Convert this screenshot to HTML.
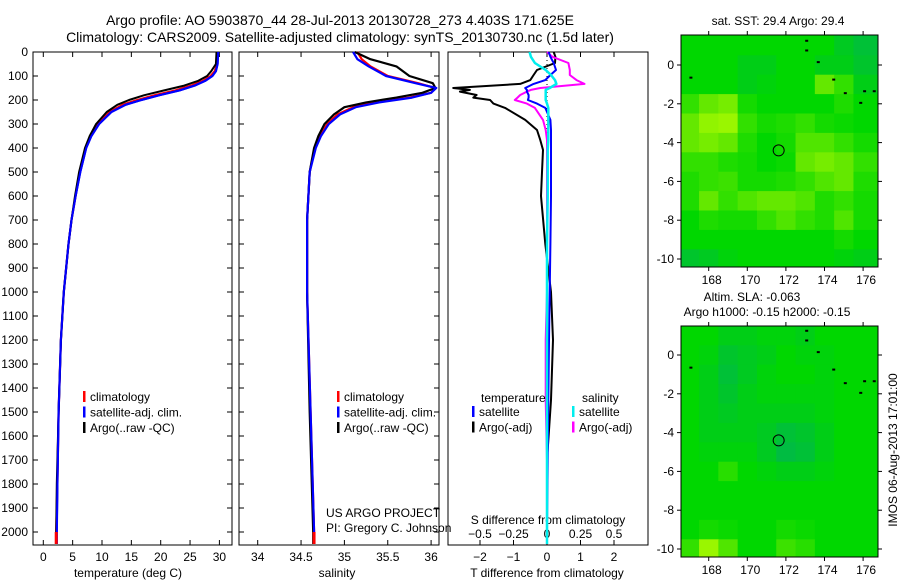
<!DOCTYPE html>
<html><head><meta charset="utf-8">
<style>
html,body{margin:0;padding:0;background:#fff;}
svg{display:block;font-family:"Liberation Sans",sans-serif;}
text{font-size:12px;fill:#000;}
</style></head>
<body>
<svg id="fig" width="900" height="580" viewBox="0 0 900 580">
<text x="340" y="25" text-anchor="middle" style="font-size:14px">Argo profile: AO 5903870_44 28-Jul-2013 20130728_273 4.403S 171.625E</text>
<text x="340" y="42" text-anchor="middle" style="font-size:14px">Climatology: CARS2009. Satellite-adjusted climatology: synTS_20130730.nc (1.5d later)</text>
<text transform="translate(897,450) rotate(-90)" text-anchor="middle">IMOS 06-Aug-2013 17:01:00</text>
</svg>
<script>
// ---------- data ----------
const tDepth = [0,50,80,100,120,140,160,180,200,220,250,300,350,400,500,600,700,800,1000,1200,1500,1800,2000,2050];
const tClim  = [29.7,29.6,29.2,28.5,27.2,25.2,22.5,19.0,16.0,13.5,11.3,9.3,8.1,7.2,6.2,5.5,4.8,4.3,3.5,3.0,2.6,2.4,2.2,2.2];
const tSat   = [29.8,29.7,29.4,28.8,27.6,25.8,23.2,19.8,16.7,14.0,11.6,9.5,8.2,7.3,6.3,5.5,4.8,4.3,3.5,3.0,2.6,2.4,2.3,2.3];
const tArgo  = [29.5,29.4,28.6,27.9,26.4,24.0,20.6,17.2,14.6,12.6,10.8,9.0,7.9,7.1,6.1,5.4,4.8,4.3,3.5,3.0,2.6,2.3,2.2,2.2];

const sDepth = [0,30,60,100,130,150,170,190,210,230,260,300,350,400,500,700,1000,1500,2000,2050];
const sClim  = [35.15,35.2,35.3,35.5,35.85,36.05,36.0,35.75,35.35,35.1,34.92,34.8,34.72,34.66,34.6,34.57,34.57,34.61,34.65,34.65];
const sSat   = [35.1,35.15,35.28,35.48,35.82,36.06,36.0,35.78,35.4,35.13,34.95,34.82,34.73,34.67,34.6,34.57,34.57,34.61,34.65,34.65];
const sArgo  = [35.12,35.3,35.6,35.75,36.02,36.05,35.9,35.6,35.25,35.0,34.88,34.77,34.7,34.65,34.6,34.57,34.57,34.6,34.64,34.64];

const dDepth   = [0,20,46,75,96,117,133,150,158,165,179,190,200,215,233,283,325,367,408,500,600,800,1000,1200,1450,1700,2000,2050];
const dTArgo   = [0.2,0.25,0.24,-0.3,-0.4,-0.5,-0.8,-2.8,-2.3,-2.6,-2.1,-2.2,-1.7,-1.6,-1.25,-0.65,-0.3,-0.2,-0.12,-0.15,-0.18,-0.05,0.12,0.18,0.12,0.0,0.0,0.0];
const dTSat    = [0.05,0.1,0.2,0.27,0.1,-0.05,-0.4,-0.65,-0.6,-0.6,-0.55,-0.55,-0.57,-0.3,-0.05,0.1,0.12,0.12,0.12,0.12,0.12,0.1,0.08,0.06,0.04,0.02,0.0,0.0];
const dSArgo   = [0.0,0.04,0.16,0.17,0.17,0.22,0.28,-0.05,-0.12,-0.15,-0.2,-0.22,-0.24,-0.15,-0.09,-0.03,-0.01,0.0,0.0,0.0,0.0,0.0,0.0,-0.01,-0.01,0.0,0.0,0.0];
const dSSat    = [-0.13,-0.12,-0.09,-0.01,0.03,0.06,0.07,0.02,-0.01,-0.01,-0.01,-0.01,-0.01,0.0,0.01,0.01,0.01,0.01,0.005,0.005,0.005,0.0,0.0,0.0,0.0,0.0,0.0,0.0];

const depthTicks = [0,100,200,300,400,500,600,700,800,900,1000,1100,1200,1300,1400,1500,1600,1700,1800,1900,2000];
const tempTicks = [0,5,10,15,20,25,30];
const salTicks = [34,34.5,35,35.5,36];
const salTickLabels = ["34","34.5","35","35.5","36"];
const tDiffTicks = [-2,-1,0,1,2];
const sDiffTicks = [-0.5,-0.25,0,0.25,0.5];
const sDiffLabels = ["-0.5","-0.25","0","0.25","0.5"];

const lonTicks = [168,170,172,174,176];
const latTicks = [0,-2,-4,-6,-8,-10];
const gridLats = [1,0,-1,-2,-3,-4,-5,-6,-7,-8,-9,-10];
const gridLons = [167,168,169,170,171,172,173,174,175,176];
const sstGrid = [
[1,1,1,1,1,1,1,1,0.7,0.5],
[1,1,1,0.8,0.8,1,1,0.8,0.8,0.6],
[1,1,1,0.8,0.9,1,1,2,1.5,0.8],
[1.5,2,2.2,1.2,1,1,1,1,1.3,1],
[2,2.5,2.6,1.5,1.2,1.3,1.5,1.2,1.1,1],
[2,2.2,2,1.3,1,1.2,1.8,1.8,1.5,1.2],
[1.5,1.5,1.3,1.2,1,1.1,2,2.2,2,1.5],
[1.3,1.5,1.6,1.2,1.2,1.3,1.5,1.8,2,1.3],
[1.3,2,1.5,1.8,2,2,1.8,1.3,1.5,1.2],
[1,1.3,1.2,1.2,1.5,1.8,1.5,1.3,1.8,1.2],
[1,1,1,1,1,1,1,1,1.2,1],
[0.6,0.7,0.9,1,1,1,1,1,0.9,0.8]];
const slaGrid = [
[1,1,0.8,0.8,0.9,0.9,0.8,1,1,1],
[1,0.9,0.6,0.7,0.8,1,0.9,0.9,1,1],
[1,0.8,0.5,0.7,0.9,1,1,0.9,1,1],
[1,0.8,0.6,0.8,0.9,0.9,0.9,0.9,1,1],
[1,0.8,0.7,0.8,0.8,0.8,0.8,0.9,1,1],
[1,0.8,0.8,0.8,0.7,0.5,0.6,0.8,1,1],
[1,0.9,0.9,0.9,0.7,0.4,0.5,0.8,1,1],
[1,1,1.4,1,0.9,0.8,0.8,0.9,1,1],
[1,1,1,1,1,1,1,1,1,1],
[1,1,1,1,1,1,1,1,1,1],
[1,1.2,1.1,1,1,1.2,1.1,1,1,1],
[1.5,2.6,1.8,1,1,1.6,1.4,1,1,1]];
const floatLon = 171.625, floatLat = -4.403;

// ---------- helpers ----------
const NS = "http://www.w3.org/2000/svg";
const svg = document.getElementById("fig");
function mk(tag, attrs, parent){const e=document.createElementNS(NS,tag);for(const k in attrs)e.setAttribute(k,attrs[k]);(parent||svg).appendChild(e);return e;}
function txt(x,y,s,anchor,parent){const t=mk("text",{x:x,y:y,"text-anchor":anchor||"middle"},parent);t.textContent=s;return t;}

const PT=52, PB=545;
const yD = d => 52 + d*0.24;

function panel(name,x0,x1){
  const g=mk("g",{});
  
  
  const r=mk("rect",{x:x0,y:PT,width:x1-x0,height:PB-PT,fill:"none",stroke:"#000","stroke-width":1},g);
  
  
  return g;
}
function line(xs,depths,fx,color,name,g,w){
  const pts=xs.map((v,i)=>fx(v).toFixed(1)+","+yD(depths[i]).toFixed(1)).join(" ");
  const p=mk("polyline",{points:pts,fill:"none",stroke:color,"stroke-width":w||2.2,"stroke-linejoin":"round"},g);
  
  
}
function legend(g,x,y,items){
  items.forEach((it,i)=>{
    mk("rect",{x:x,y:y+i*15.5-6,width:2.5,height:11,fill:it[0]},g);
    const t=txt(x+7,y+i*15.5+4,it[1],"start",g);
    
    
  });
}

// ---------- panel 1 temperature ----------
const xT = v => 43.3 + v*5.87;
const g1=panel("temperature-panel",33,232);
depthTicks.forEach(d=>{
  mk("line",{x1:33,x2:38,y1:yD(d),y2:yD(d),stroke:"#000"},g1);
  mk("line",{x1:227,x2:232,y1:yD(d),y2:yD(d),stroke:"#000"},g1);
  const t=txt(28,yD(d)+4,String(d),"end",g1);
  
  
});
tempTicks.forEach(v=>{
  mk("line",{x1:xT(v),x2:xT(v),y1:PB,y2:PB-5,stroke:"#000"},g1);
  mk("line",{x1:xT(v),x2:xT(v),y1:PT,y2:PT+5,stroke:"#000"},g1);
  txt(xT(v),561,String(v),"middle",g1);
});
txt(128,577,"temperature (deg C)","middle",g1);
line(tClim,tDepth,xT,"#ff0000","temp-climatology-line",g1);
line(tSat,tDepth,xT,"#0000ff","temp-satellite-line",g1);
line(tArgo,tDepth,xT,"#000000","temp-argo-line",g1,2);
line(tSat,tDepth,xT,"#0000ff","temp-satellite-line-top",g1,2);
mk("rect",{x:xT(tClim[tClim.length-2])-1.5,y:yD(2000),width:3,height:yD(2050)-yD(2000),fill:"#ff0000"},g1);
legend(g1,83,397,[["#ff0000","climatology"],["#0000ff","satellite-adj. clim."],["#000000","Argo(..raw -QC)"]]);

// ---------- panel 2 salinity ----------
const xS = v => 257.7 + (v-34)*86.7;
const g2=panel("salinity-panel",239,439);
depthTicks.forEach(d=>{
  mk("line",{x1:239,x2:244,y1:yD(d),y2:yD(d),stroke:"#000"},g2);
  mk("line",{x1:434,x2:439,y1:yD(d),y2:yD(d),stroke:"#000"},g2);
});
salTicks.forEach((v,i)=>{
  mk("line",{x1:xS(v),x2:xS(v),y1:PB,y2:PB-5,stroke:"#000"},g2);
  mk("line",{x1:xS(v),x2:xS(v),y1:PT,y2:PT+5,stroke:"#000"},g2);
  txt(xS(v),561,salTickLabels[i],"middle",g2);
});
txt(337,577,"salinity","middle",g2);
line(sClim,sDepth,xS,"#ff0000","sal-climatology-line",g2);
line(sArgo,sDepth,xS,"#000000","sal-argo-line",g2);
line(sSat,sDepth,xS,"#0000ff","sal-satellite-line",g2);
mk("rect",{x:xS(34.65)-1.5,y:yD(2000),width:3,height:yD(2050)-yD(2000),fill:"#ff0000"},g2);
legend(g2,337,397,[["#ff0000","climatology"],["#0000ff","satellite-adj. clim."],["#000000","Argo(..raw -QC)"]]);
txt(326,517,"US ARGO PROJECT","start",g2);
txt(326,532,"PI: Gregory C. Johnson","start",g2);

// ---------- panel 3 differences ----------
const xDT = v => 547 + v*33.5;
const xDS = v => 547 + v*134;
const g3=panel("difference-panel",448,648);
tDiffTicks.forEach(v=>{
  mk("line",{x1:xDT(v),x2:xDT(v),y1:PB,y2:PB-5,stroke:"#000"},g3);
  mk("line",{x1:xDT(v),x2:xDT(v),y1:PT,y2:PT+5,stroke:"#000"},g3);
  txt(xDT(v),561,String(v).replace("-","\u2212"),"middle",g3);
});
sDiffTicks.forEach((v,i)=>{ txt(xDS(v),538,sDiffLabels[i].replace("-","\u2212"),"middle",g3); });
txt(548,524,"S difference from climatology","middle",g3);
txt(547,577,"T difference from climatology","middle",g3);
mk("line",{x1:547,x2:547,y1:PT,y2:PB,stroke:"#000","stroke-dasharray":"1,3"},g3);
line(dTArgo,dDepth,xDT,"#000000","tdiff-argo-line",g3,2);
line(dSArgo,dDepth,xDS,"#ff00ff","sdiff-argo-line",g3,2);
line(dTSat,dDepth,xDT,"#0000ff","tdiff-satellite-line",g3,2);
line(dSSat,dDepth,xDS,"#00eeee","sdiff-satellite-line",g3,2.5);
txt(481,402,"temperature","start",g3);
txt(582,402,"salinity","start",g3);
legend(g3,472,412,[["#0000ff","satellite"],["#000000","Argo(-adj)"]]);
legend(g3,572,412,[["#00eeee","satellite"],["#ff00ff","Argo(-adj)"]]);

// ---------- maps ----------
const MX0=681, MX1=878;
const xL = lon => 708.7 + (lon-168)*19.3;
function colorFor(v){
  const stops=[[0,[0,170,110]],[1,[0,215,0]],[2,[100,232,0]],[3,[190,255,0]]];
  v=Math.max(0,Math.min(3,v));
  const i=Math.min(2,Math.floor(v)),f=v-i,a=stops[i][1],b=stops[i+1][1];
  return "rgb("+a.map((c,k)=>Math.round(c+(b[k]-c)*f)).join(",")+")";
}
function map(name,top,bottom,lat0y,grid){
  const yL = lat => lat0y - lat*19.4;
  const g=mk("g",{});
  
  
  const clip="clip-"+name;
  const cp=mk("clipPath",{id:clip},g);
  mk("rect",{x:MX0,y:top,width:MX1-MX0,height:bottom-top},cp);
  const cells=mk("g",{"clip-path":"url(#"+clip+")"},g);
  gridLats.forEach((lat,r)=>{
    gridLons.forEach((lon,c)=>{
      const x0 = c===0 ? MX0 : xL(lon-0.5);
      const x1 = c===gridLons.length-1 ? MX1 : xL(lon+0.5);
      const y0 = r===0 ? top : yL(lat+0.5);
      const y1 = r===gridLats.length-1 ? bottom : yL(lat-0.5);
      const cell=mk("rect",{x:x0,y:y0,width:x1-x0+0.5,height:y1-y0+0.5,fill:colorFor(grid[r][c])},cells);
      
      
    });
  });
  const fr=mk("rect",{x:MX0,y:top,width:MX1-MX0,height:bottom-top,fill:"none",stroke:"#000"},g);
  
  
  lonTicks.forEach(l=>{
    mk("line",{x1:xL(l),x2:xL(l),y1:top,y2:top-4,stroke:"#000"},g);
    mk("line",{x1:xL(l),x2:xL(l),y1:bottom,y2:bottom+4,stroke:"#000"},g);
    txt(xL(l)+3,bottom+17,String(l),"middle",g);
  });
  latTicks.forEach(l=>{
    mk("line",{x1:MX0,x2:MX0-4,y1:yL(l),y2:yL(l),stroke:"#000"},g);
    mk("line",{x1:MX1,x2:MX1+4,y1:yL(l),y2:yL(l),stroke:"#000"},g);
    txt(674,yL(l)+4,String(l),"end",g);
  });
  const c=mk("circle",{cx:xL(floatLon),cy:yL(floatLat),r:5.5,fill:"none",stroke:"#000"},g);
  
  
  [[173,1.3],[173,0.8],[173.6,0.2],[174.4,-0.7],[175,-1.4],[175.8,-1.9],[176,-1.3],[176.5,-1.3],[167,-0.6]].forEach(p=>{
    mk("rect",{x:xL(p[0]),y:yL(p[1]),width:3,height:2,fill:"#000"},g);
  });
  return g;
}
map("sst-map",35,267,65,sstGrid);
txt(778,25,"sat. SST: 29.4 Argo: 29.4","middle");
map("sla-map",326,557,355,slaGrid);
txt(752,301,"Altim. SLA: -0.063","middle");
txt(767,316,"Argo h1000: -0.15 h2000: -0.15","middle");
</script>
</body></html>
